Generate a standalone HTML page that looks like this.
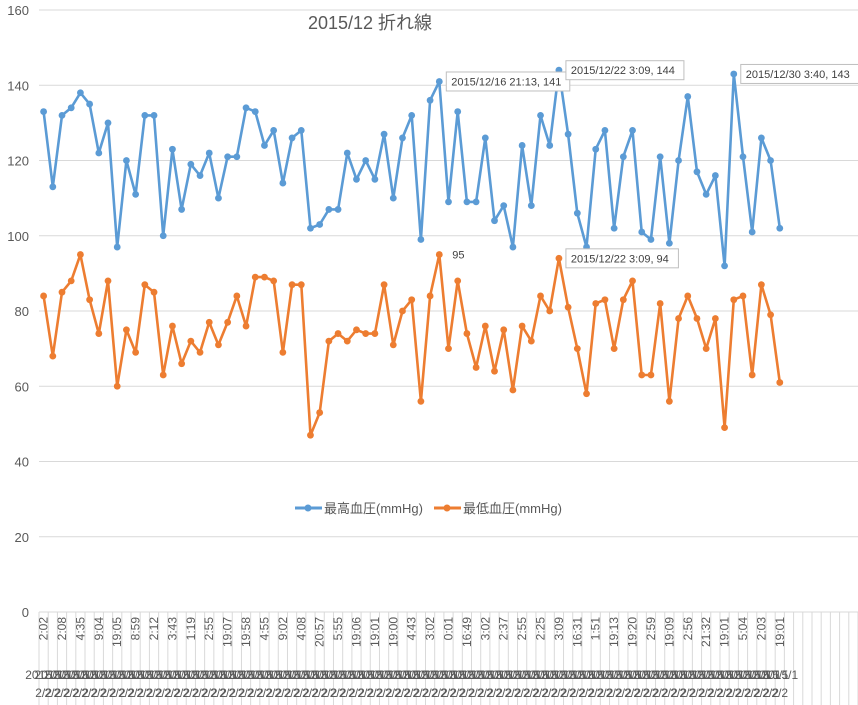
<!DOCTYPE html>
<html><head><meta charset="utf-8"><style>
body{margin:0;background:#fff}
svg{display:block;font-family:"Liberation Sans","Noto Sans CJK JP",sans-serif}
</style></head><body>
<svg id="chart" width="858" height="705" viewBox="0 0 858 705">
<text x="370" y="29" text-anchor="middle" font-size="18" fill="#595959">2015/12  折れ線</text>
<g id="grid"></g><g id="xaxis"></g><g id="series"></g><g id="labels"></g>
<g>
<g><line x1="295" y1="508" x2="322" y2="508" stroke="#5B9BD5" stroke-width="3"/><circle cx="308" cy="508" r="3.5" fill="#5B9BD5"/><text x="324" y="513" font-size="13" fill="#595959">最高血圧(mmHg)</text></g>
<g><line x1="434" y1="508" x2="461" y2="508" stroke="#ED7D31" stroke-width="3"/><circle cx="447" cy="508" r="3.5" fill="#ED7D31"/><text x="463" y="513" font-size="13" fill="#595959">最低血圧(mmHg)</text></g>
</g>
</svg>
<script>
const highValues=[133,113,132,134,138,135,122,130,97,120,111,132,132,100,123,107,119,116,122,110,121,121,134,133,124,128,114,126,128,102,103,107,107,122,115,120,115,127,110,126,132,99,136,141,109,133,109,109,126,104,108,97,124,108,132,124,144,127,106,97,123,128,102,121,128,101,99,121,98,120,137,117,111,116,92,143,121,101,126,120,102];
const lowValues=[84,68,85,88,95,83,74,88,60,75,69,87,85,63,76,66,72,69,77,71,77,84,76,89,89,88,69,87,87,47,53,72,74,72,75,74,74,87,71,80,83,56,84,95,70,88,74,65,76,64,75,59,76,72,84,80,94,81,70,58,82,83,70,83,88,63,63,82,56,78,84,78,70,78,49,83,84,63,87,79,61];
const timeLabels=["2:02","2:08","4:35","9:04","19:05","8:59","2:12","3:43","1:19","2:55","19:07","19:58","4:55","9:02","4:08","20:57","5:55","19:06","19:01","19:00","4:43","3:02","0:01","16:49","3:02","2:37","2:55","2:25","3:09","16:31","1:51","19:13","19:20","2:59","19:09","2:56","21:32","19:01","5:04","2:03","19:01"];
const yTicks=[0,20,40,60,80,100,120,140,160];
const ns="http://www.w3.org/2000/svg";
const X0=39,X1=858,NCAT=89,Y0=612,Y1=10,YMAX=160;
const cw=(X1-X0)/NCAT;
function xs(i){return X0+cw*(i+0.5);}
function ys(v){return Y0-(Y0-Y1)*v/YMAX;}
function mk(tag,attrs,parent){const e=document.createElementNS(ns,tag);for(const k in attrs)e.setAttribute(k,attrs[k]);parent.appendChild(e);return e;}
const grid=document.getElementById('grid');
yTicks.forEach(t=>{
 const l=mk('line',{x1:X0,x2:X1,y1:ys(t),y2:ys(t),stroke:'#d9d9d9','stroke-width':1},grid);
 
 
 const tx=mk('text',{x:29,y:ys(t)+5,'text-anchor':'end','font-size':13,fill:'#595959'},grid);
 tx.textContent=t;
 
 
});
const xa=document.getElementById('xaxis');
for(let i=0;i<=NCAT;i++){
 const x=X0+cw*i;
 const l=mk('line',{x1:x,x2:x,y1:Y0,y2:705,stroke:'#d9d9d9','stroke-width':1},xa);
 
 
}
timeLabels.forEach((t,j)=>{
 const x=xs(j*2);
 const tx=mk('text',{transform:`translate(${x+4},617) rotate(-90)`,'text-anchor':'end','font-size':12,fill:'#595959'},xa);
 tx.textContent=t;
 
 
});
for(let i=0;i<highValues.length;i++){
 const x=xs(i);
 const a=mk('text',{x:x,y:679,'text-anchor':'middle','font-size':12,fill:'#595959'},xa);
 a.textContent='2015/1';
 
 
 const b=mk('text',{x:x,y:697,'text-anchor':'middle','font-size':12,fill:'#595959'},xa);
 b.textContent='2/2';
 
 
}
const sg=document.getElementById('series');
function drawSeries(vals,color,name){
 const pts=vals.map((v,i)=>xs(i).toFixed(1)+','+ys(v).toFixed(1)).join(' ');
 const pl=mk('polyline',{points:pts,fill:'none',stroke:color,'stroke-width':2.6,'stroke-linejoin':'round'},sg);
 
 
 vals.forEach((v,i)=>{
  const c=mk('circle',{cx:xs(i),cy:ys(v),r:3.4,fill:color},sg);
  
  
 });
}
drawSeries(highValues,'#5B9BD5','high-bp');
drawSeries(lowValues,'#ED7D31','low-bp');
const lg=document.getElementById('labels');
function callout(i,val,text){
 const x=xs(i)+7,y=ys(val);
 const w=text.length*5.5+8;
 const r=mk('rect',{x:x,y:y-9.5,width:w,height:19,fill:'#fff',stroke:'#bfbfbf'},lg);
 
 
 const t=mk('text',{x:x+5,y:y+4,'font-size':11,fill:'#404040'},lg);
 t.textContent=text;
 
 
}
callout(43,highValues[43],'2015/12/16 21:13, '+highValues[43]);
callout(56,highValues[56],'2015/12/22 3:09, '+highValues[56]);
callout(75,highValues[75],'2015/12/30 3:40, '+highValues[75]);
callout(56,lowValues[56],'2015/12/22 3:09, '+lowValues[56]);
const t95=mk('text',{x:xs(43)+13,y:ys(lowValues[43])+4,'font-size':11,fill:'#404040'},lg);
t95.textContent=lowValues[43];


</script>
</body></html>
